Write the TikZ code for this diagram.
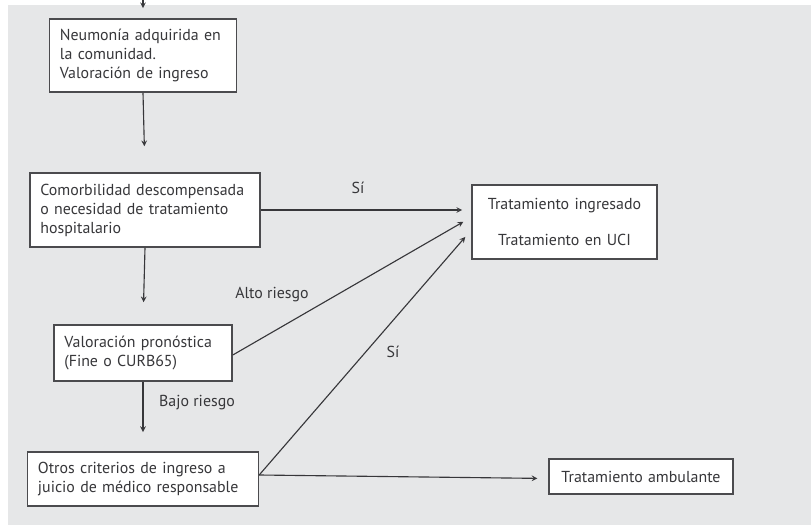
\documentclass[tikz,border=0pt]{standalone}
\usepackage{fontspec}
\setmainfont{PT Sans}
\definecolor{fondo}{RGB}{230,231,232}
\definecolor{tinta}{RGB}{55,55,58}
\tikzstyle{caja}=[draw=tinta!90,line width=1.1pt,fill=white,text=tinta,align=left,inner xsep=0.26cm,font=\fontsize{11.3}{13.5}\selectfont]
\tikzstyle{cajac}=[caja,align=center]
\tikzstyle{etiq}=[text=tinta,font=\fontsize{11.3}{13.5}\selectfont,inner sep=0pt]
\tikzstyle{flecha}=[->,>=stealth,line width=0.8pt,draw=tinta]

\begin{document}
\begin{tikzpicture}[x=0.025cm,y=-0.025cm]
                    \useasboundingbox (0,0) rectangle (811,527);
                    \fill [fondo] (8,5) rectangle (811,525);

                    \node (b1) at (143, 55.5) [caja,text width=4.15cm,minimum height=1.825cm] {Neumonía adquirida en\\la comunidad.\\Valoración de ingreso};
                    \node (b2) at (145, 210) [caja,text width=5.23cm,minimum height=1.85cm] {Comorbilidad descompensada\\o necesidad de tratamiento\\hospitalario};
                    \node (b3) at (143, 353) [caja,text width=3.93cm,minimum height=1.4cm] {Valoración pronóstica\\(Fine o CURB65)};
                    \node (b4) at (143, 479) [caja,text width=5.25cm,minimum height=1.35cm] {Otros criterios de ingreso a\\juicio de médico responsable};

                    \node (tr) at (564.5, 222) [cajac,text width=4.1cm,minimum height=1.85cm] {Tratamiento ingresado\\[0.42cm]Tratamiento en UCI};
                    \node (amb) at (641, 476.5) [cajac,text width=4.08cm,minimum height=0.875cm] {Tratamiento ambulante};

                    \coordinate (in) at (143,-3);

                    \draw [flecha,shorten >=0.25cm] (in) -- (b1.north);
                    \draw [flecha,shorten >=0.65cm] (b1.south) -- (b2.north);
                    \draw [flecha,shorten >=0.55cm] (b2.south) -- (b3.north);
                    \draw [flecha,shorten >=0.48cm] (b3.south) -- (b4.north);

                    \draw [flecha,shorten >=0.23cm] (b2.east) -- (b2.east -| tr.west);
                    \draw [flecha,shorten >=0.23cm] ([yshift=-0.05cm]b3.east) -- ([yshift=0.12cm]tr.west);
                    \draw [flecha,shorten >=0.23cm] ([yshift=0.1cm]b4.east) -- ([yshift=-0.2cm]tr.west);
                    \draw [flecha,shorten >=0.27cm] ([yshift=0.1cm]b4.east) -- ([yshift=-0.05cm]amb.west);

                    \node (si1) at (358,188) [etiq] {Sí};
                    \node (alto) at (272,295) [etiq] {Alto riesgo};
                    \node (si2) at (393,352) [etiq] {Sí};
                    \node (bajo) at (197,403) [etiq] {Bajo riesgo};
                \end{tikzpicture}
\end{document}
